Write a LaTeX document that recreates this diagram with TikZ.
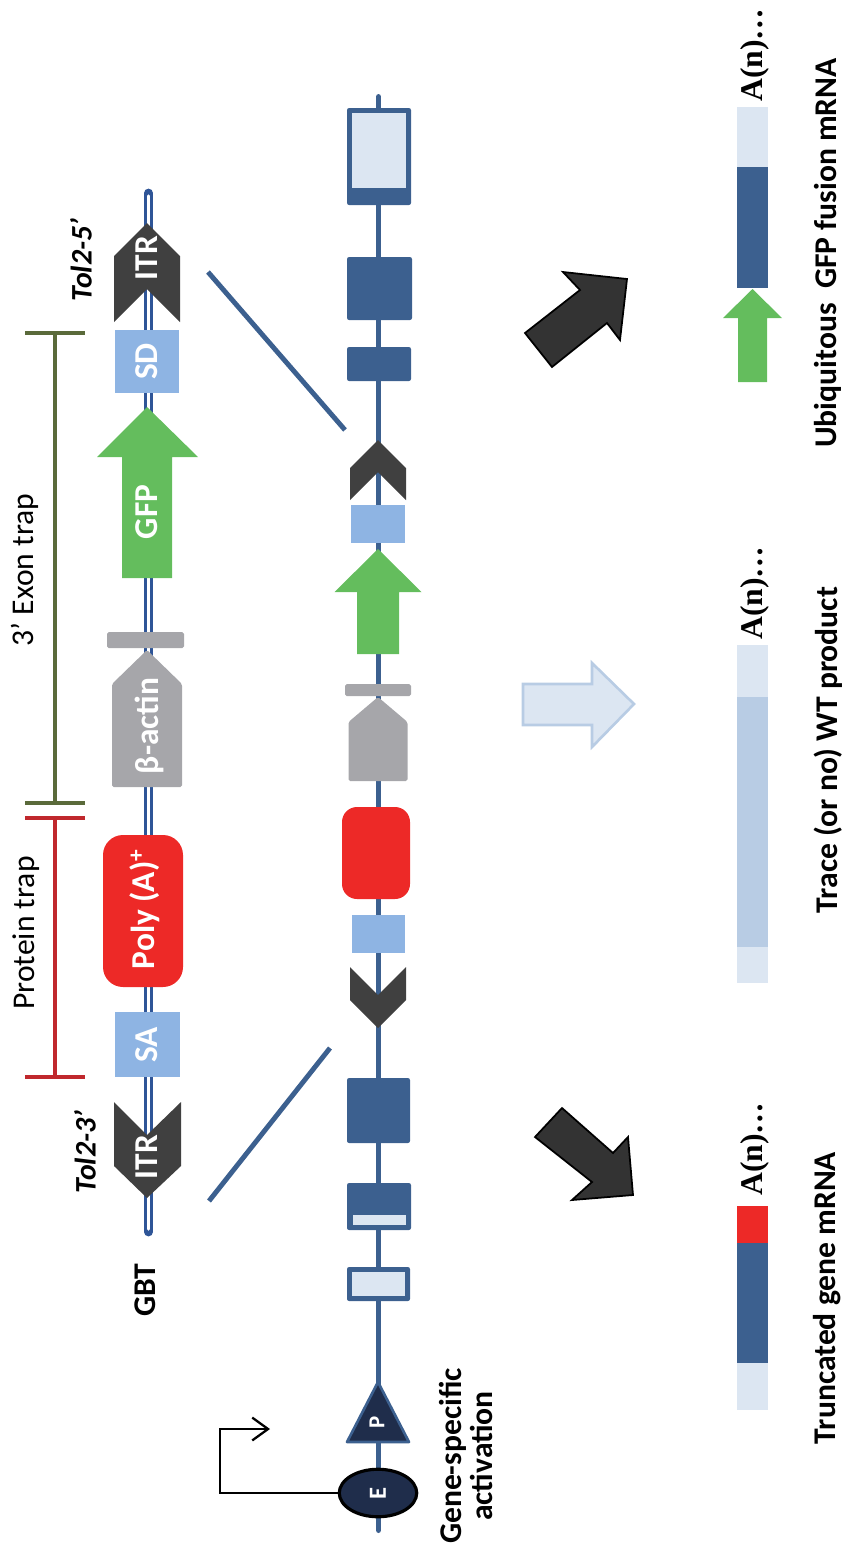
\documentclass[tikz,border=0pt]{standalone}
\usepackage{fontspec}
\setmainfont{Carlito}
\newfontfamily\tailfont{Liberation Serif}
\usetikzlibrary{shapes,arrows.meta}
\definecolor{genblue}{RGB}{60,96,143}
\definecolor{lineblue}{RGB}{47,85,151}
\definecolor{lightfill}{RGB}{220,230,242}
\definecolor{midfill}{RGB}{184,204,228}
\definecolor{sitefill}{RGB}{142,180,227}
\definecolor{gfpgreen}{RGB}{100,189,93}
\definecolor{actingray}{RGB}{166,166,170}
\definecolor{polyred}{RGB}{237,41,39}
\definecolor{itrgray}{RGB}{64,64,64}
\definecolor{exongreen}{RGB}{90,106,58}
\definecolor{protred}{RGB}{192,40,45}
\definecolor{navy}{RGB}{31,45,75}
\definecolor{arrowdark}{RGB}{51,51,51}
\tikzstyle{lbl} = [rotate=90, inner sep=0pt, font=\fontsize{18}{19}\selectfont]
\tikzstyle{boldlbl} = [rotate=90, inner sep=0pt, font=\fontsize{18}{18}\selectfont\bfseries]
\tikzstyle{inlbl} = [rotate=90, inner sep=0pt, text=white, font=\fontsize{19}{20}\selectfont\bfseries]
\tikzstyle{tail} = [rotate=90, inner sep=0pt, font=\fontsize{18}{19}\selectfont\tailfont\bfseries]
\tikzstyle{result} = [rotate=90, inner sep=0pt, font=\fontsize{18}{20}\selectfont\bfseries]
\tikzstyle{gbtline} = [draw=lineblue, line width=5pt, line cap=round]
\tikzstyle{geneline} = [draw=genblue, line width=3.4pt, line cap=round]
\tikzstyle{line} = [draw=genblue, line width=2.8pt]
\tikzstyle{promline} = [draw=black, line width=1.3pt, -{Straight Barb[length=9pt,width=13pt,line width=1.3pt]}]
\tikzstyle{itr} = [fill=itrgray]
\tikzstyle{site} = [fill=sitefill]
\tikzstyle{gfp} = [fill=gfpgreen]
\tikzstyle{actin} = [fill=actingray, rounded corners=1pt]
\tikzstyle{exon} = [fill=genblue, rounded corners=1.2pt]
\tikzstyle{utr} = [fill=lightfill]
\tikzstyle{trapbar} = [line width=2.2pt]
\tikzstyle{bigarrow} = [fill=arrowdark, draw=black, line width=1pt]
\tikzstyle{fadearrow} = [fill=lightfill, draw=midfill, line width=1.5pt]

\begin{document}
\begin{tikzpicture}[x=0.02cm, y=-0.02cm]
\useasboundingbox (0,0) rectangle (846,1553);

% GBT construct
\path [gbtline] (148.5,193) -- (148.5,1232);
\path [draw=white, line width=2pt, line cap=round] (148.5,196) -- (148.5,1229);
\fill [itr] (147,223) -- (180,256) -- (180,322) -- (147,289) -- (114,322) -- (114,256) -- cycle;
\node [inlbl] (itr5) at (147,258) {ITR};
\fill [site] (115,330) rectangle (179,393);
\node [inlbl] (sd) at (147,361.5) {SD};
\fill [gfp] (147,407) -- (198,457) -- (172,457) -- (172,578) -- (122,578) -- (122,457) -- (97,457) -- cycle;
\node [inlbl] (gfp) at (147,512) {GFP};
\fill [actin] (107,632) rectangle (184,648);
\fill [actin] (147,650) -- (182,684) -- (182,787) -- (112,787) -- (112,684) -- cycle;
\node [inlbl] (bact) at (149,726) {β-actin};
\fill [polyred, rounded corners=0.4cm] (103,835) rectangle (183,987);
\node [inlbl] (polya) at (145,909) {Poly (A)\textsuperscript{+}};
\fill [site] (115,1012) rectangle (180,1077);
\node [inlbl] (sa) at (147,1045) {SA};
\fill [itr] (114,1102) -- (147,1135) -- (181,1102) -- (181,1166) -- (147,1198) -- (114,1166) -- cycle;
\node [inlbl] (itr3) at (147,1157) {ITR};

% trap ranges
\draw [trapbar, exongreen] (25,333) -- (85,333) (55,333) -- (55,803) (25,803) -- (85,803);
\draw [trapbar, protred] (25,818) -- (85,818) (55,818) -- (55,1077) (25,1077) -- (85,1077);
\node [lbl] (exontrap) at (25,570) {3’ Exon trap};
\node [lbl] (prottrap) at (26,933) {Protein trap};
\node [boldlbl, font=\fontsize{17}{17}\selectfont\bfseries\itshape] (tol5) at (81,260) {Tol2-5’};
\node [boldlbl, font=\fontsize{17}{17}\selectfont\bfseries\itshape] (tol3) at (85,1152) {Tol2-3’};
\node [boldlbl] (gbt) at (145,1290) {GBT};

% insertion lines
\coordinate (ins5a) at (208,272);
\coordinate (ins5b) at (345,430);
\coordinate (ins3a) at (209,1201);
\coordinate (ins3b) at (330,1048);
\path [line] (ins5a) -- (ins5b);
\path [line] (ins3a) -- (ins3b);

% trapped gene
\path [geneline] (378.5,97) -- (378.5,1530);
\fill [exon] (347,108) rectangle (411,205);
\fill [utr] (352,113) rectangle (406,188);
\fill [exon] (347,257) rectangle (412,320);
\fill [exon] (347,347) rectangle (411,381);
\fill [itr] (378,440) -- (406,468) -- (406,500) -- (378,472) -- (350,500) -- (350,468) -- cycle;
\fill [site] (351,505) rectangle (405,543);
\fill [gfp] (378,549) -- (421.5,592) -- (399,592) -- (399,654) -- (357,654) -- (357,592) -- (334.5,592) -- cycle;
\fill [actin] (345,684) rectangle (411,696);
\fill [actin] (378,697) -- (407.5,722) -- (407.5,781) -- (348.5,781) -- (348.5,722) -- cycle;
\fill [polyred, rounded corners=0.3cm] (342,807) rectangle (410,899);
\fill [site] (352,915) rectangle (405,953);
\fill [itr] (350,967) -- (378,995) -- (406,967) -- (406,1000) -- (378,1028) -- (350,1000) -- cycle;
\fill [exon] (347,1078) rectangle (410,1143);
\fill [exon] (347,1183) rectangle (411,1230);
\fill [utr] (353,1215) rectangle (406,1225);
\fill [exon] (347,1267) rectangle (410,1301);
\fill [utr] (352,1272) rectangle (405,1296);
\filldraw [fill=navy, draw=genblue, line width=1.5pt, line join=round] (378,1382) -- (409,1442) -- (347,1442) -- cycle;
\node [inlbl, font=\fontsize{13}{13}\selectfont\bfseries] (prom) at (377,1422) {P};
\node [ellipse, draw=black, line width=1.8pt, fill=navy, minimum width=1.55cm, minimum height=0.95cm, inner sep=0pt, text=white, font=\fontsize{14}{14}\selectfont\bfseries] (enh) at (378,1493) {\rotatebox{90}{E}};
\coordinate (bend1) at (220,1493);
\coordinate (bend2) at (220,1429);
\coordinate (promtip) at (270,1429);
\path [promline] (enh.west) -- (bend1) -- (bend2) -- (promtip);
\node [boldlbl, align=center] (activ) at (466,1456) {Gene-specific\\activation};

% outcome arrows
\filldraw [bigarrow, line join=miter] (525,333) -- (580,290) -- (563,272) -- (627,279) -- (620,340) -- (607,323) -- (552,367) -- cycle;
\filldraw [fadearrow] (523,684) -- (592,684) -- (592,663) -- (634,704) -- (592,747) -- (592,725) -- (523,725) -- cycle;
\filldraw [bigarrow, line join=miter] (535,1137) -- (562,1108) -- (613,1153) -- (628,1137) -- (633,1195) -- (572,1200) -- (592,1182) -- cycle;

% transcripts
\fill [utr] (737,107) rectangle (768,167);
\fill [genblue] (737,167) rectangle (768,288);
\fill [gfp] (752.5,289) -- (782,318) -- (767,318) -- (767,382) -- (738,382) -- (738,318) -- (723,318) -- cycle;
\node [tail] (tailA) at (755,55) {A(n)…};
\node [result] (fusion) at (828,253) {Ubiquitous\ \ GFP fusion mRNA};

\fill [utr] (737,645) rectangle (768,697);
\fill [midfill] (737,697) rectangle (768,947);
\fill [utr] (737,947) rectangle (768,983);
\node [tail] (tailB) at (755,593) {A(n)…};
\node [result] (trace) at (828,750) {Trace (or no) WT product};

\fill [polyred] (737,1206) rectangle (768,1243);
\fill [genblue] (737,1243) rectangle (768,1363);
\fill [utr] (737,1363) rectangle (768,1410);
\node [tail] (tailC) at (755,1149) {A(n)…};
\node [result] (trunc) at (827,1298) {Truncated gene mRNA};
\end{tikzpicture}
\end{document}
